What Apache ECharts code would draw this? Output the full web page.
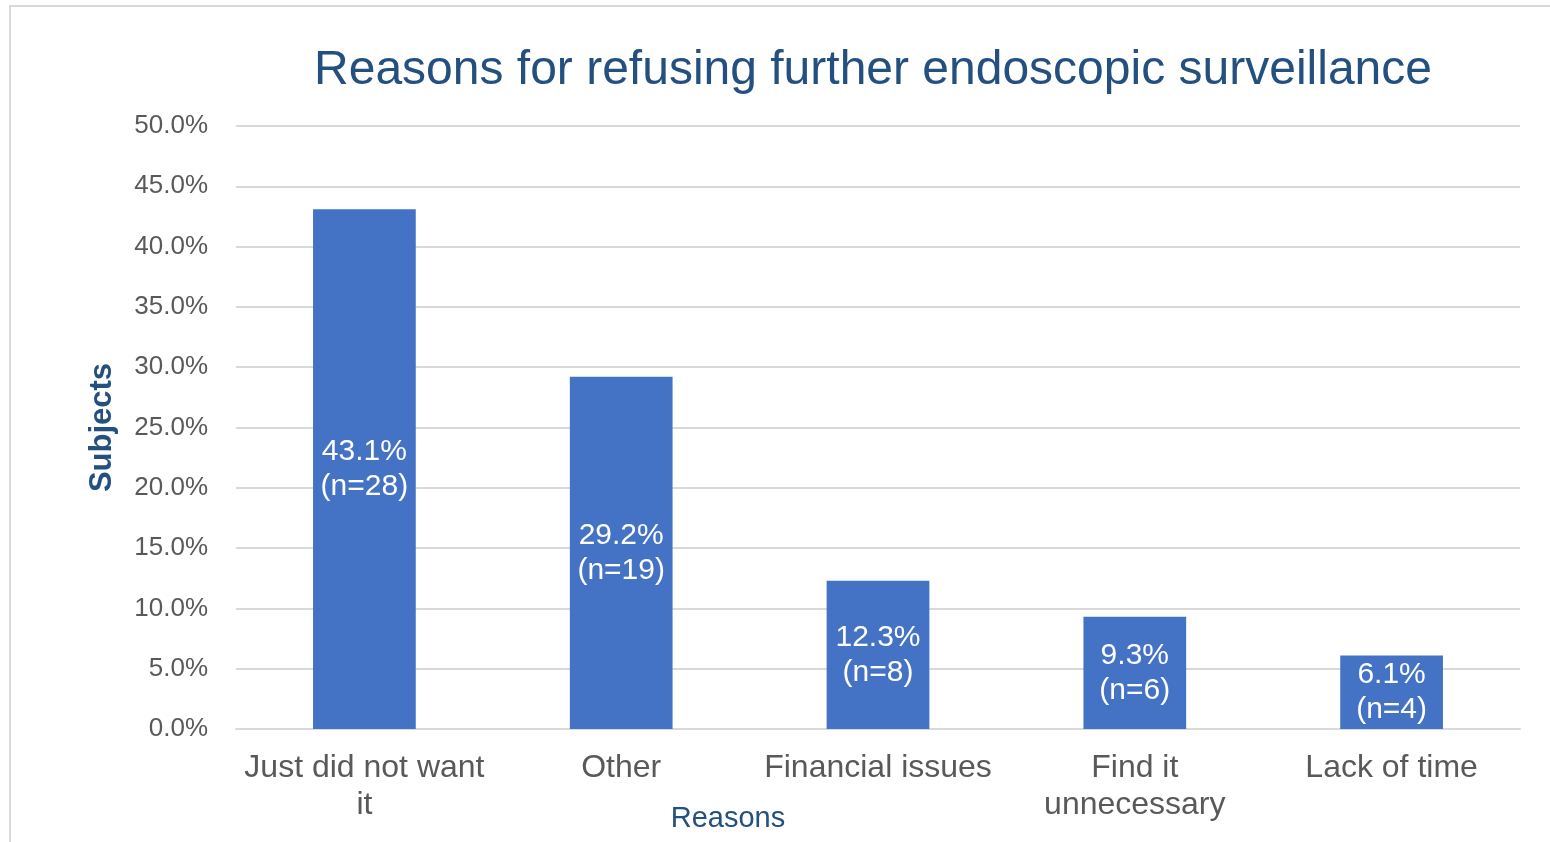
<!DOCTYPE html>
<html><head><meta charset="utf-8">
<script src="https://cdn.jsdelivr.net/npm/echarts@6/dist/echarts.min.js"></script>
<style>html,body{margin:0;padding:0;background:#fff}#c{width:1550px;height:842px}</style>
</head><body><div id="c"></div>
<script>
const categories = ["Just did not want\nit", "Other", "Financial issues", "Find it\nunnecessary", "Lack of time"];
const percentValues = [43.1, 29.2, 12.3, 9.3, 6.1];
const counts = [28, 19, 8, 6, 4];
const yTicks = {min: 0, max: 50, interval: 5};

const chart = echarts.init(document.getElementById('c'), null, {renderer: 'canvas'});
chart.setOption({
  animation: false,
  backgroundColor: '#fff',
  graphic: [{type: 'rect', shape: {x: 10, y: 6, width: 1600, height: 900}, style: {fill: 'none', stroke: '#d9d9d9', lineWidth: 2}, silent: true}],
  title: {
    text: 'Reasons for refusing further endoscopic surveillance',
    left: 868, top: 42, textAlign: 'center',
    textStyle: {fontFamily: 'Liberation Sans, Arial', fontSize: 48, fontWeight: 'normal', color: '#24507f'}
  },
  grid: {left: 236, right: 30, top: 126, bottom: 113, outerBoundsMode: 'none', containLabel: false},
  xAxis: {
    type: 'category', data: categories,
    name: 'Reasons', nameLocation: 'middle', nameGap: 75, nameMoveOverlap: false,
    nameTextStyle: {fontFamily: 'Liberation Sans, Arial', fontSize: 29, color: '#24507f', padding: [0, 300, 0, 0]},
    axisLine: {lineStyle: {color: '#d9d9d9', width: 2}},
    axisTick: {show: false},
    axisLabel: {fontFamily: 'Liberation Sans, Arial', fontSize: 32, color: '#595959', margin: 21, lineHeight: 37, interval: 0}
  },
  yAxis: {
    type: 'value', min: yTicks.min, max: yTicks.max, interval: yTicks.interval,
    name: 'Subjects', nameLocation: 'middle', nameGap: 118, nameMoveOverlap: false,
    nameTextStyle: {fontFamily: 'Liberation Sans, Arial', fontSize: 31, color: '#24507f', fontWeight: 'bold'},
    axisLine: {show: false}, axisTick: {show: false},
    splitLine: {lineStyle: {color: '#d9d9d9', width: 2}},
    axisLabel: {fontFamily: 'Liberation Sans, Arial', fontSize: 26, color: '#595959', margin: 28,
      formatter: v => v.toFixed(1) + '%'}
  },
  series: [{
    type: 'bar', data: percentValues, barWidth: '40%',
    itemStyle: {color: '#4472c4'},
    label: {show: true, position: 'inside', color: '#fff', fontFamily: 'Liberation Sans, Arial', fontSize: 30, lineHeight: 35,
      formatter: p => p.value.toFixed(1) + '%\n(n=' + counts[p.dataIndex] + ')'}
  }]
});
</script></body></html>
